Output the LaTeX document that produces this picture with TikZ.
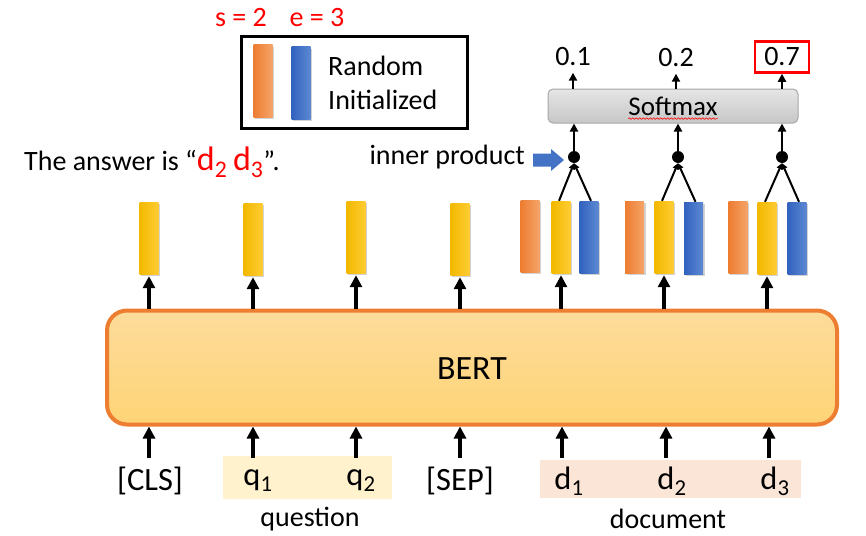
\documentclass[tikz,border=0pt]{standalone}
\usepackage{fontspec}
\setmainfont{Carlito}
\usetikzlibrary{arrows.meta,shadows,decorations.pathmorphing}
\definecolor{borange}{HTML}{ED7D31}
\definecolor{borangeL}{HTML}{F5A469}
\definecolor{byellow}{HTML}{F2B800}
\definecolor{byellowL}{HTML}{FFCC33}
\definecolor{bblue}{HTML}{3162BF}
\definecolor{bblueL}{HTML}{5D88D2}
\definecolor{bertTop}{HTML}{FDDC9C}
\definecolor{bertBot}{HTML}{FFD476}
\definecolor{qbg}{HTML}{FFF2CC}
\definecolor{dbg}{HTML}{FBE5D6}
\definecolor{arrowblue}{HTML}{4472C4}
\tikzset{
  txt/.style={font=\fontsize{28}{30}\selectfont, inner sep=0pt},
  bigtxt/.style={font=\fontsize{32.5}{34}\selectfont, inner sep=0pt},
  vbar/.style={rectangle, minimum width=19pt, minimum height=72pt, inner sep=0pt,
    drop shadow={shadow xshift=1.5pt, shadow yshift=-2pt, opacity=0.35}},
  obar/.style={vbar, left color=borange, right color=borangeL},
  ybar/.style={vbar, left color=byellow, right color=byellowL},
  bbar/.style={vbar, left color=bblue, right color=bblueL},
  bigarrow/.style={line width=3.5pt, -{Triangle[length=12pt,width=12pt]}},
  smallarrow/.style={line width=2pt, -{Triangle[length=8pt,width=8pt]}},
  ipline/.style={line width=2pt, -{Triangle[length=6pt,width=6pt]}},
  ipdot/.style={circle, fill=black, minimum size=12pt, inner sep=0pt},
  outtxt/.style={txt, minimum height=31pt},
}
\begin{document}
\begin{tikzpicture}[x=1pt,y=-1pt]
\useasboundingbox (0,0) rectangle (866,535);

% background boxes for question and document
\node[fill=qbg, minimum width=169pt, minimum height=43pt, inner sep=0pt] (qbox) at (307.5,477.5) {};
\node[fill=dbg, minimum width=261pt, minimum height=38pt, inner sep=0pt] (dbox) at (670.5,479) {};

% BERT
\node[draw=borange, line width=4pt, rounded corners=20pt, top color=bertTop, bottom color=bertBot,
      minimum width=730pt, minimum height=114pt, inner sep=0pt] (bert) at (472,367.5) {};
\node[font=\fontsize{34}{36}\selectfont, inner sep=0pt] (berttxt) at (472,369) {BERT};

% input labels
\node[bigtxt] (cls) at (150,481) {[CLS]};
\node[bigtxt] (q1) at (258,481) {q\textsubscript{1}};
\node[bigtxt] (q2) at (361,481) {q\textsubscript{2}};
\node[bigtxt] (sep) at (460,481) {[SEP]};
\node[bigtxt] (d1) at (569,481) {d\textsubscript{1}};
\node[bigtxt] (d2) at (672,481) {d\textsubscript{2}};
\node[bigtxt] (d3) at (775,481) {d\textsubscript{3}};
\node[txt] (question) at (310,519) {question};
\node[txt] (document) at (668,519) {document};

% input arrow start points
\coordinate (i1) at (149,458);
\coordinate (i2) at (253,458);
\coordinate (i3) at (356,458);
\coordinate (i4) at (460,458);
\coordinate (i5) at (562,458);
\coordinate (i6) at (666,458);
\coordinate (i7) at (769,458);
\foreach \i in {1,...,7}{
  \draw[bigarrow] (i\i) -- (i\i |- bert.south);
}

% output bars
\node[ybar] (y1) at (149,238) {};
\node[ybar] (y2) at (253,239) {};
\node[ybar] (y3) at (356,237) {};
\node[ybar] (y4) at (460,239) {};

\node[obar] (o5) at (530,236) {};
\node[ybar] (y5) at (561,237) {};
\node[bbar] (b5) at (589,237) {};
\node[obar] (o6) at (634.5,237) {};
\node[ybar] (y6) at (664,237) {};
\node[bbar] (b6) at (693.5,238) {};
\node[obar] (o7) at (738,237) {};
\node[ybar] (y7) at (767,238) {};
\node[bbar] (b7) at (797,238) {};

\foreach \i in {1,...,7}{
  \draw[bigarrow, shorten >=2pt] (bert.north -| y\i.south) -- (y\i.south);
}

% inner product dots
\node[ipdot] (p5) at (574,157) {};
\node[ipdot] (p6) at (678,157) {};
\node[ipdot] (p7) at (782,157) {};
\foreach \i in {5,6,7}{
  \draw[ipline] ([xshift=-2pt]y\i.north) -- (p\i.south);
  \draw[ipline] ([xshift=2pt]b\i.north) -- (p\i.south);
}

% softmax
\node[draw=black!35, line width=1pt, rounded corners=5pt, top color=black!10, bottom color=black!22,
      minimum width=250pt, minimum height=34pt, inner sep=0pt] (soft) at (673,106) {};
\node[font=\fontsize{27}{29}\selectfont, inner sep=0pt] (softtxt) at (673,106) {Softmax};
\draw[red, line width=0.6pt, decorate, decoration={snake, amplitude=0.8pt, segment length=3.5pt}]
  ([yshift=-3pt]softtxt.south west) -- ([yshift=-3pt]softtxt.south east);
\foreach \i in {5,6,7}{
  \draw[smallarrow] (p\i.north) -- (p\i.north |- soft.south);
}

% outputs
\node[outtxt] (out1) at (573,57) {0.1};
\node[outtxt] (out2) at (676,58) {0.2};
\node[outtxt, draw=red, line width=2.5pt, minimum width=54pt] (out3) at (782,57) {0.7};
\draw[smallarrow] (soft.north -| out1.south) -- (out1.south);
\draw[smallarrow] (soft.north -| out2.south) -- (out2.south);
\draw[smallarrow] (soft.north -| out3.south) -- (out3.south);

% inner product label and arrow
\node[txt, anchor=east] (iptxt) at (525,157) {inner product};
\fill[arrowblue] (533,153.5) -- (551,153.5) -- (551,149) -- (564,160) -- (551,171) -- (551,166.5) -- (533,166.5) -- cycle;

% answer text
\node[txt, anchor=west] (answer) at (24,162)
  {The answer is “{\color{red}\fontsize{34}{36}\selectfont d\textsubscript{2}\,d\textsubscript{3}}”.};

% legend
\node[draw=black, line width=3pt, minimum width=226pt, minimum height=91pt, inner sep=0pt] (legend) at (354,82.5) {};
\node[obar] (lo) at (263,81) {};
\node[bbar] (lb) at (301,83) {};
\node[txt, anchor=west] (lr) at (328,66) {Random};
\node[txt, anchor=west] (li) at (328,100) {Initialized};

% s and e
\node[txt, text=red] (s) at (241,18) {s = 2};
\node[txt, text=red] (e) at (317,18) {e = 3};
\end{tikzpicture}
\end{document}
